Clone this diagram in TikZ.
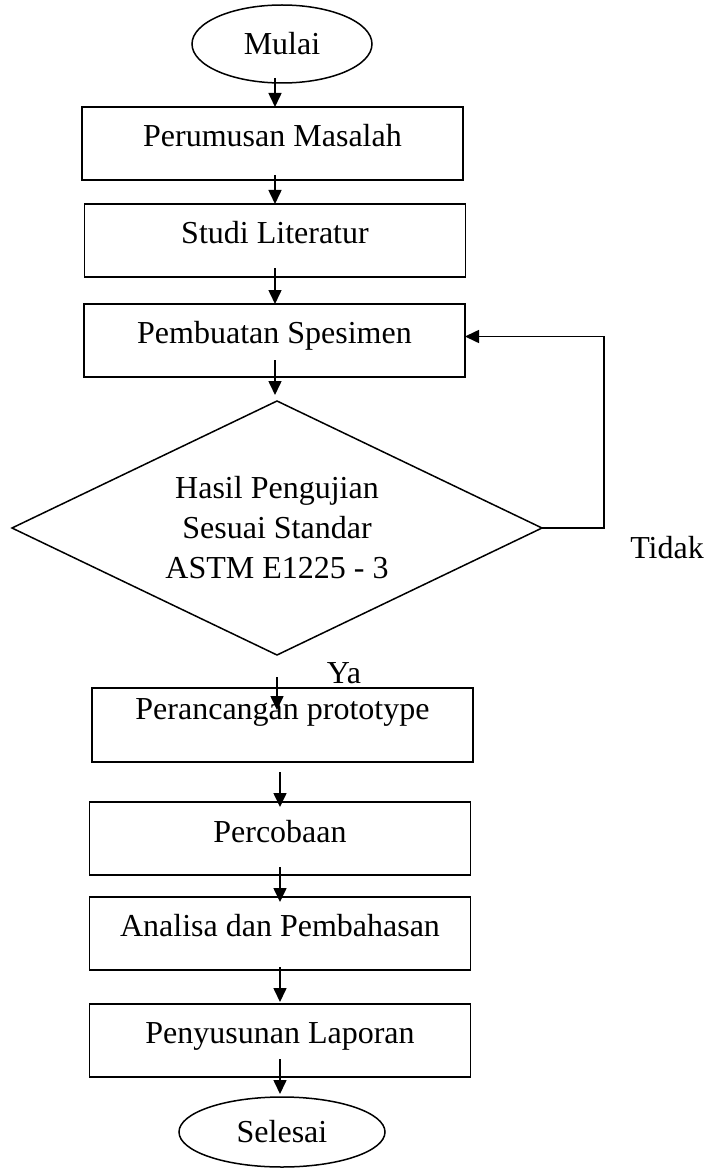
\documentclass[tikz,border=0pt]{standalone}
\usepackage{fontspec}
\setmainfont{Liberation Serif}
\usetikzlibrary{shapes.geometric,arrows.meta,calc}
\tikzset{
  txt/.style={font=\fontsize{32}{40}\selectfont},
  stepbox/.style={txt, draw, line width=1.6pt, rectangle, minimum width=381pt,
    inner xsep=0pt, inner ysep=0pt, outer sep=0pt, anchor=north},
  term/.style={txt, draw, line width=1.5pt, ellipse, inner sep=0pt, outer sep=0pt},
  decide/.style={txt, draw, line width=1.5pt, diamond, shape aspect=2.1, minimum width=530pt,
    minimum height=254pt, inner sep=0pt, outer sep=0pt, align=center},
  arr/.style={line width=1.6pt, -{Triangle[length=14pt,width=13pt]}},
  lbl/.style={txt, anchor=base, inner sep=0pt}
}
\begin{document}
\begin{tikzpicture}[x=1pt,y=-1pt]
\useasboundingbox (0,0) rectangle (708,1169);
\node[term, minimum width=180pt, minimum height=78pt] (mulai) at (282,44) {Mulai};
\node[stepbox, text height=40pt, text depth=33pt] (box1) at (272.5,107) {Perumusan Masalah};
\node[stepbox, text height=39pt, text depth=34pt] (box2) at (275,204) {Studi Literatur};
\node[stepbox, text height=39pt, text depth=34pt] (box3) at (274.5,304) {Pembuatan Spesimen};
\node[decide] (dia) at (277,528) {Hasil Pengujian\\Sesuai Standar\\ASTM E1225 - 3};
\node[stepbox, text height=31pt, text depth=43pt] (box4) at (282.5,688) {Perancangan prototype};
\node[stepbox, text height=40pt, text depth=33pt] (box5) at (280,802) {Percobaan};
\node[stepbox, text height=39pt, text depth=34pt] (box6) at (280,897) {Analisa dan Pembahasan};
\node[stepbox, text height=39pt, text depth=34pt] (box7) at (280,1004) {Penyusunan Laporan};
\node[term, minimum width=206pt, minimum height=70pt] (selesai) at (282,1132) {Selesai};
\node[lbl] (tidak) at (667,558) {Tidak};
\node[lbl] (ya) at (344,683) {Ya};

\draw[arr] ($(mulai.south -| box2)+(0,-5)$) -- (box1.north -| box2);
\draw[arr] ($(box1.south -| box2)+(0,-5)$) -- (box2.north);
\draw[arr] ($(box2.south)+(0,-9)$) -- (box3.north -| box2);
\draw[arr] ($(box3.south -| box2)+(0,-17)$) -- ($(dia.north -| box2)+(0,-6)$);
\draw[arr] ($(dia.south)+(0,22)$) -- ($(dia.south |- box4.north)+(0,22)$);
\draw[arr] ($(box4.south -| box5)+(0,10)$) -- ($(box5.north)+(0,5)$);
\draw[arr] ($(box5.south)+(0,-8)$) -- ($(box6.north)+(0,5)$);
\draw[arr] ($(box6.south)+(0,-3)$) -- ($(box7.north)+(0,-2)$);
\draw[arr] ($(box7.south -| box5)+(0,-18)$) -- ($(selesai.north -| box5)+(0,-3)$);
\draw[arr] (dia.east) -- ++(62,0) |- ($(box3.east)+(0,-4)$);
\end{tikzpicture}
\end{document}
